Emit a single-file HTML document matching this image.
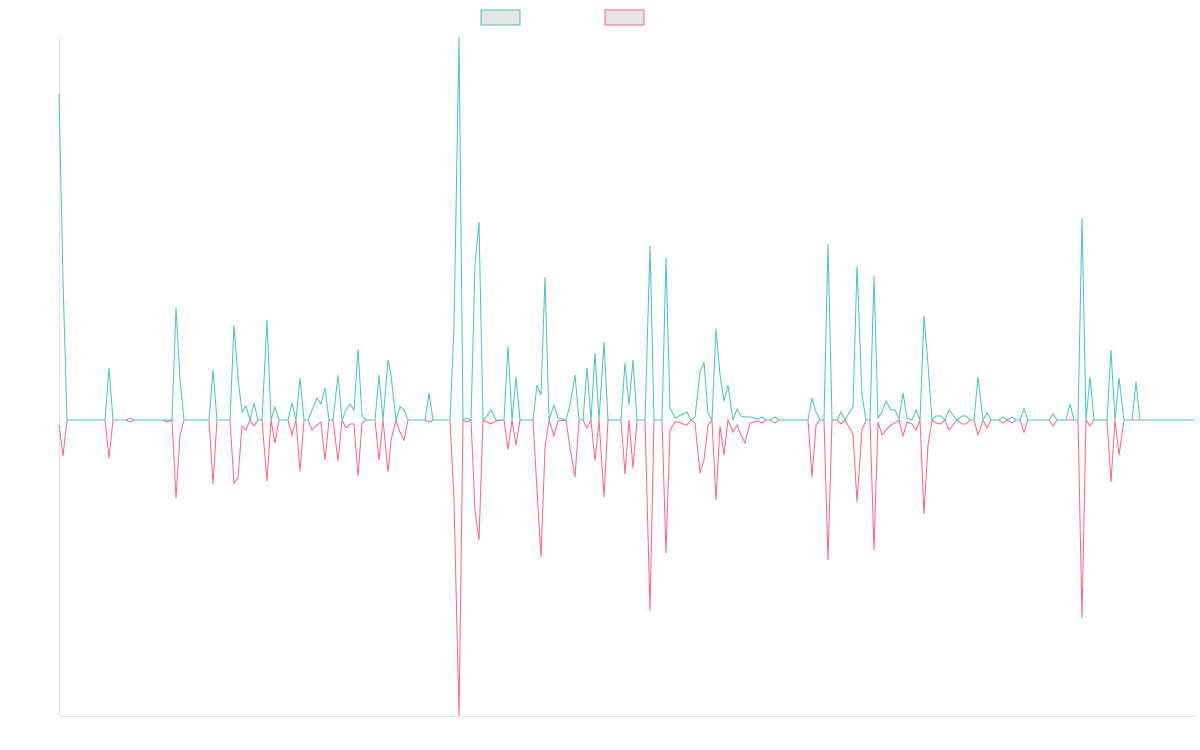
<!DOCTYPE html>
<html><head><meta charset="utf-8"><style>html,body{margin:0;padding:0;background:#fff}svg{display:block}</style></head>
<body>
<svg width="1200" height="750" viewBox="0 0 1200 750" xmlns="http://www.w3.org/2000/svg">
<rect x="481" y="10" width="39" height="15" fill="#e6e6e6" stroke="#4bc0c0" stroke-width="1"/>
<rect x="605" y="10" width="39" height="15" fill="#e6e6e6" stroke="#ff6384" stroke-width="1"/>
<line x1="59.5" y1="37" x2="59.5" y2="716" stroke="#e5e5e5"/>
<line x1="59" y1="716.5" x2="1195" y2="716.5" stroke="#e5e5e5"/>
<polyline fill="none" stroke="#ff6384" stroke-width="1" points="59,425 63,456 67,420 105,420 109,458 113,420 126,420 130,422 134,420 163,420 167,422 172,420 176,498 180,435 184,420 209,420 213,484 217,420 230,420 234,483 238,478 242,426 246,430 250,420 254,426 258,420 262,420 267,481 271,420 275,443 279,420 288,420 292,435 296,420 300,471 304,420 308,420 312,430 317,425 321,422 325,460 329,420 333,420 338,461 342,420 346,428 350,424 354,424 358,476 362,423 366,420 375,420 379,460 383,420 388,472 391,440 396,420 400,432 404,440 408,420 425,420 429,422 433,420 450,420 454,500 459,716 463,420 467,422 471,420 475,510 479,540 483,420 487,422 491,424 496,421 504,420 508,449 512,420 516,445 520,420 533,420 537,490 541,557 545,448 549,420 554,436 558,421 566,420 570,448 575,477 579,420 583,420 587,428 591,420 595,461 599,420 604,497 608,420 621,420 625,474 629,420 633,468 637,420 645,420 650,611 654,420 662,420 666,553 670,430 675,422 679,422 683,424 687,425 691,420 695,423 700,473 704,460 708,425 712,420 716,500 720,426 724,455 728,420 733,432 737,425 741,435 745,443 750,423 754,422 758,421 762,423 766,420 770,420 775,423 779,420 808,420 812,477 816,425 820,420 824,420 828,560 832,420 837,420 841,424 845,420 849,427 853,434 857,502 862,430 866,420 870,420 874,550 878,422 882,435 886,430 891,425 895,423 899,420 903,436 907,422 912,424 916,430 920,420 924,514 928,445 932,420 936,423 941,424 945,420 949,430 953,425 957,420 962,424 966,424 970,420 974,420 978,435 983,420 987,428 991,420 999,420 1003,423 1007,420 1012,423 1016,420 1020,420 1024,432 1028,420 1049,420 1053,426 1057,420 1066,420 1070,420 1074,420 1078,420 1082,618 1086,420 1090,426 1094,420 1107,420 1111,482 1115,420 1119,455 1124,420 1132,420 1136,420 1140,420 1195,420"/>
<polyline fill="none" stroke="#4bc0c0" stroke-width="1" points="59,94 63,280 67,420 105,420 109,368 113,420 126,420 130,418 134,420 163,420 167,420 172,420 176,308 180,380 184,420 209,420 213,370 217,420 230,420 234,325 238,378 242,412 246,406 250,420 254,403 258,420 262,420 267,320 271,420 275,407 279,420 288,420 292,403 296,420 300,378 304,420 308,420 312,410 317,398 321,404 325,388 329,420 333,420 338,375 342,420 346,410 350,404 354,410 358,349 362,416 366,420 375,420 379,375 383,420 388,360 391,375 396,420 400,407 404,410 408,420 425,420 429,393 433,420 450,420 454,328 459,37 463,420 467,418 471,420 475,265 479,222 483,420 487,416 491,410 496,420 504,420 508,346 512,420 516,377 520,420 533,420 537,385 541,395 545,277 549,420 554,405 558,418 566,420 570,405 575,375 579,420 583,420 587,368 591,420 595,353 599,420 604,342 608,420 621,420 625,363 629,405 633,360 637,420 645,420 650,246 654,420 662,420 666,258 670,408 675,418 679,416 683,414 687,412 691,420 695,417 700,372 704,362 708,413 712,420 716,329 720,375 724,401 728,385 733,420 737,409 741,416 745,417 750,417 754,418 758,419 762,417 766,420 770,420 775,417 779,420 808,420 812,398 816,412 820,420 824,420 828,244 832,420 837,420 841,412 845,420 849,413 853,407 857,266 862,395 866,420 870,420 874,276 878,418 882,412 886,401 891,410 895,410 899,419 903,393 907,418 912,420 916,410 920,420 924,316 928,365 932,420 936,416 941,416 945,420 949,410 953,415 957,420 962,416 966,416 970,420 974,420 978,377 983,420 987,413 991,420 999,420 1003,417 1007,420 1012,417 1016,420 1020,420 1024,409 1028,420 1049,420 1053,414 1057,420 1066,420 1070,404 1074,420 1078,420 1082,218 1086,420 1090,377 1094,420 1107,420 1111,350 1115,420 1119,378 1124,420 1132,420 1136,382 1140,420 1195,420"/>
</svg>
</body></html>
